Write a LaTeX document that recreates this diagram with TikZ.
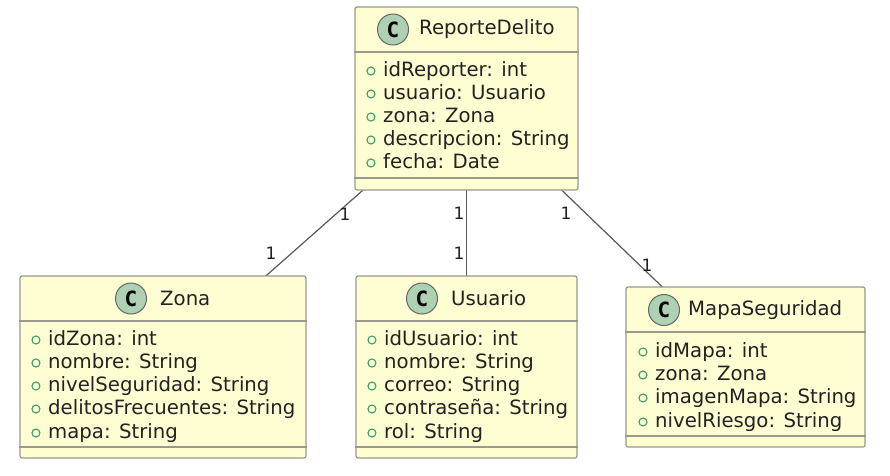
\documentclass[tikz,border=0pt]{standalone}
\usepackage{fontspec}
\setmainfont{DejaVu Sans}
\newfontfamily\spotfont{DejaVu Sans Mono}
\definecolor{boxfill}{HTML}{FEFED2}
\definecolor{boxline}{HTML}{9A9A8C}
\definecolor{spotfill}{HTML}{ADD1B2}
\definecolor{dotline}{HTML}{3C9C6C}
\definecolor{inktext}{HTML}{222222}
\begin{document}
\begin{tikzpicture}[x=1pt,y=-1pt,
classbox/.style={rounded corners=2pt, draw=boxline, fill=boxfill, line width=1.2pt, inner sep=0pt},
spotnode/.style={circle, draw=black!60, fill=spotfill, line width=1pt, minimum size=31pt, inner sep=0pt, font=\fontsize{21}{21}\spotfont\bfseries, text=black},
titlenode/.style={anchor=west, inner sep=0pt, text=inktext, font=\fontsize{19.7}{22}\selectfont},
member/.style={anchor=west, inner sep=0pt, text=inktext, font=\fontsize{19.7}{22}\selectfont, text height=14pt, text depth=4pt, label={[dotnode]left:{}}},
dotnode/.style={circle, draw=dotline, line width=1.1pt, minimum size=8pt, inner sep=0pt, xshift=-7.5pt},
multlabel/.style={inner sep=0pt, text=inktext, font=\fontsize{17}{19}\selectfont},
rule/.style={draw=boxline, line width=1.2pt},
assoc/.style={draw=black!65, line width=1.2pt},
]
\useasboundingbox (0,0) rectangle (890,475);
\fill[white] (0,0) rectangle (890,475);

%Lines
\coordinate (reporte_c) at (466.5,98.5);
\coordinate (zona_c) at (163,367);
\coordinate (usuario_c) at (466.5,367);
\coordinate (mapa_c) at (745.5,367);
\draw[assoc] (reporte_c) -- (zona_c);
\draw[assoc] (reporte_c) -- (usuario_c);
\draw[assoc] (reporte_c) -- (mapa_c);

%Nodes
\node[classbox, minimum width=223pt, minimum height=183pt] (reporte) at (reporte_c) {};
\node[classbox, minimum width=286pt, minimum height=182pt] (zona) at (zona_c) {};
\node[classbox, minimum width=221pt, minimum height=182pt] (usuario) at (usuario_c) {};
\node[classbox, minimum width=239pt, minimum height=160pt] (mapa) at (mapa_c) {};

\node[spotnode] (reporte_spot) at (393,29.5) {C};
\node[titlenode] (reporte_title) at (419,29.5) {ReporteDelito};
\node[spotnode] (zona_spot) at (131,298.5) {C};
\node[titlenode] (zona_title) at (160,298.5) {Zona};
\node[spotnode] (usuario_spot) at (422,298.5) {C};
\node[titlenode] (usuario_title) at (451,298.5) {Usuario};
\node[spotnode] (mapa_spot) at (664,310) {C};
\node[titlenode] (mapa_title) at (688,310) {MapaSeguridad};

%Rules
\draw[rule] (reporte.west |- 0,52) -- (reporte.east |- 0,52);
\draw[rule] (reporte.west |- 0,178) -- (reporte.east |- 0,178);
\draw[rule] (zona.west |- 0,321) -- (zona.east |- 0,321);
\draw[rule] (zona.west |- 0,447) -- (zona.east |- 0,447);
\draw[rule] (usuario.west |- 0,321) -- (usuario.east |- 0,321);
\draw[rule] (usuario.west |- 0,447) -- (usuario.east |- 0,447);
\draw[rule] (mapa.west |- 0,332) -- (mapa.east |- 0,332);
\draw[rule] (mapa.west |- 0,436) -- (mapa.east |- 0,436);

%Members
\node[member] (reporte_a) at (383,71) {idReporter: int};
\node[member] (reporte_b) at (383,94) {usuario: Usuario};
\node[member] (reporte_c2) at (383,117) {zona: Zona};
\node[member] (reporte_d) at (383,140) {descripcion: String};
\node[member] (reporte_e) at (383,163) {fecha: Date};

\node[member] (zona_a) at (48,340) {idZona: int};
\node[member] (zona_b) at (48,363) {nombre: String};
\node[member] (zona_c2) at (48,386) {nivelSeguridad: String};
\node[member] (zona_d) at (48,409) {delitosFrecuentes: String};
\node[member] (zona_e) at (48,433) {mapa: String};

\node[member] (usuario_a) at (384,340) {idUsuario: int};
\node[member] (usuario_b) at (384,363) {nombre: String};
\node[member] (usuario_c2) at (384,386) {correo: String};
\node[member] (usuario_d) at (384,409) {contraseña: String};
\node[member] (usuario_e) at (384,433) {rol: String};

\node[member] (mapa_a) at (655,352) {idMapa: int};
\node[member] (mapa_b) at (655,375) {zona: Zona};
\node[member] (mapa_c2) at (655,398) {imagenMapa: String};
\node[member] (mapa_d) at (655,422) {nivelRiesgo: String};

%Multiplicities
\node[multlabel] (m_a) at (345,214) {1};
\node[multlabel] (m_b) at (271,253) {1};
\node[multlabel] (m_c) at (459,213) {1};
\node[multlabel] (m_d) at (459,253) {1};
\node[multlabel] (m_e) at (566,213) {1};
\node[multlabel] (m_f) at (647,265) {1};
\end{tikzpicture}
\end{document}
